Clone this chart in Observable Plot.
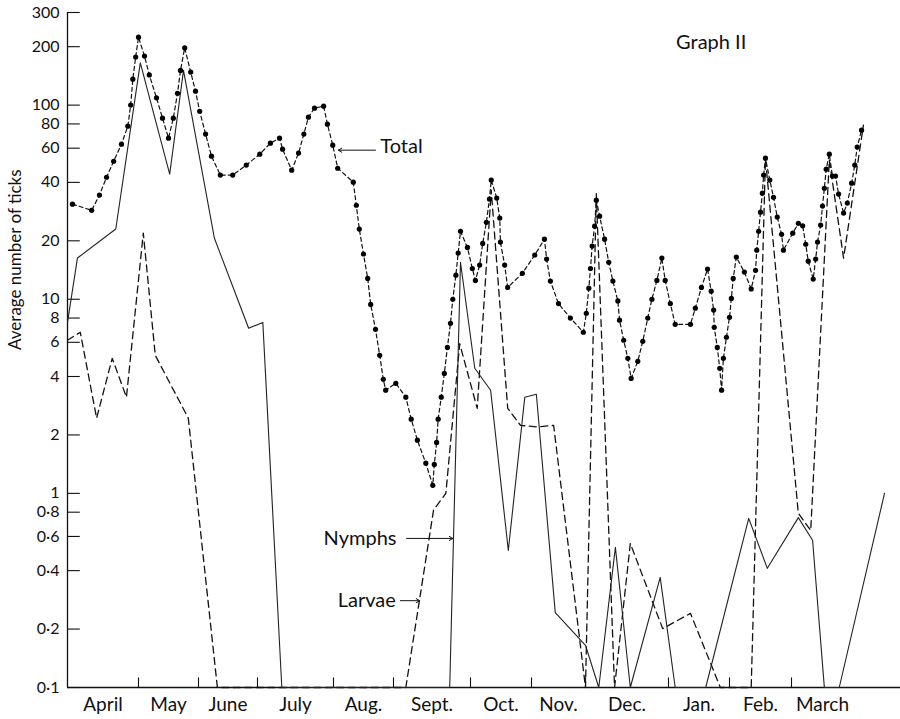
<!DOCTYPE html>
<html>
<head>
<meta charset="utf-8">
<script src="https://cdn.jsdelivr.net/npm/d3@7"></script>
<script src="https://cdn.jsdelivr.net/npm/@observablehq/plot@0.6"></script>
<style>
  html, body { margin: 0; padding: 0; background: #fff; }
  #chart svg { display: block; }
</style>
</head>
<body>
<div id="chart"></div>
<script>
// Months on the x axis (x unit = month, 0 = start of April)
const monthNames = ["April","May","June","July","Aug.","Sept.","Oct.","Nov.","Dec.","Jan.","Feb.","March"];
const monthTicks = [1,2,3,4,5,6,7,8,9,10,11];
const yTicks = [300,200,100,80,60,40,20,10,8,6,4,2,1,0.8,0.6,0.4,0.2,0.1];

// Total (dotted series)
const totalMonth = [0.07,0.34,0.45,0.55,0.65,0.76,0.85,0.89,0.92,0.96,1.00,1.10,1.18,1.30,1.40,1.50,1.58,1.65,1.70,1.77,1.87,1.95,2.02,2.12,2.22,2.37,2.58,2.81,3.03,3.17,3.29,3.33,3.45,3.54,3.61,3.67,3.75,3.87,3.92,3.99,4.07,4.33,4.38,4.43,4.50,4.57,4.62,4.70,4.77,4.83,4.87,5.03,5.16,5.23,5.31,5.42,5.51,5.53,5.56,5.58,5.62,5.66,5.70,5.74,5.77,5.81,5.84,5.87,5.96,6.03,6.08,6.15,6.20,6.26,6.31,6.34,6.43,6.48,6.49,6.56,6.61,6.85,7.06,7.24,7.28,7.35,7.50,7.72,7.96,8.01,8.04,8.06,8.08,8.11,8.13,8.17,8.23,8.28,8.33,8.39,8.41,8.46,8.51,8.55,8.63,8.69,8.75,8.80,8.86,8.92,8.96,9.03,9.11,9.36,9.44,9.54,9.64,9.70,9.74,9.75,9.80,9.84,9.87,9.90,9.95,10.00,10.03,10.06,10.11,10.24,10.35,10.42,10.44,10.47,10.50,10.53,10.55,10.58,10.65,10.71,10.77,10.84,10.87,11.02,11.11,11.18,11.23,11.27,11.35,11.39,11.42,11.47,11.50,11.53,11.56,11.61,11.66,11.71,11.76,11.84,11.90,11.97,12.02,12.06,12.13];
const totalValue = [30.9,28.7,34.4,42.5,51.4,62.9,77.9,100,136,177,224,179,143,109,85.7,67.6,85.7,115,151,197,148,118,93,70.9,54.6,43.6,43.6,49.1,55.9,63.7,67.6,59.3,46.2,56.6,70.9,86.7,96.5,98.8,79.8,62.2,47.3,40.1,30.5,23.0,17.1,12.8,9.4,7.0,5.14,3.87,3.40,3.69,3.13,2.41,1.88,1.43,1.10,1.41,1.83,2.41,3.13,4.15,5.65,7.52,10,13.3,17.3,22.4,18.5,14.4,12.5,15.0,19.4,24.9,32.8,41.1,33.2,26.2,19.7,15.0,11.5,13.6,16.9,20.4,16.1,12.4,9.5,8.0,6.76,8.47,11.4,14.4,18.8,23.8,32.4,26.8,20.4,15.5,12.4,9.8,7.8,6.15,4.96,3.91,4.79,6.07,8.0,10,12.5,16.3,12.5,9.5,7.43,7.43,9.0,11.5,14.3,11.0,8.8,7.17,5.65,4.41,3.40,4.96,6.37,8.07,10.1,12.8,16.5,13.8,11.3,14.1,17.9,22.4,28.1,35.2,43.6,53.3,41.1,33.5,26.5,21.6,17.9,21.9,24.6,23.9,19.2,15.7,12.7,16.1,19.7,24.1,30.2,37.3,46.8,55.9,43.1,43.1,34.8,27.8,31.3,39.6,49.1,60.8,74.3];

// Nymphs (solid line); 0.1 = none found
const nymphMonth = [0.00,0.14,0.68,1.03,1.52,1.75,2.27,2.85,3.07,3.32,5.73,5.87,6.07,6.33,6.62,6.89,7.09,7.44,8.00,8.16,8.36,8.54,8.90,9.11,9.61,10.31,10.61,11.11,11.34,11.53,11.77,12.50];
const nymphValue = [7.6,16.3,23.0,165,44.1,151,20.6,7.09,7.6,0.1,0.1,15.5,4.41,3.40,0.508,3.13,3.24,0.243,0.165,0.1,0.527,0.1,0.369,0.1,0.1,0.743,0.411,0.75,0.573,0.1,0.1,1.0];

// Larvae (dashed line); 0.1 = none found
const larvaMonth = [0.00,0.18,0.41,0.63,0.83,1.08,1.28,1.83,2.32,5.16,5.52,5.68,5.86,6.11,6.34,6.61,6.82,7.11,7.41,8.00,8.13,8.35,8.54,8.93,9.36,9.85,10.35,10.58,11.11,11.31,11.61,11.84,12.16];
const larvaValue = [6.15,6.76,2.44,4.96,3.13,21.9,5.14,2.44,0.1,0.1,0.82,1.0,5.9,2.74,36.5,2.74,2.24,2.2,2.24,0.1,35,0.1,0.552,0.201,0.241,0.1,0.1,53,0.79,0.644,52,16.3,78.9];

const total = totalMonth.map((m, i) => ({m, v: totalValue[i]}));
const nymphs = nymphMonth.map((m, i) => ({m, v: nymphValue[i]}));
const larvae = larvaMonth.map((m, i) => ({m, v: larvaValue[i]}));
const monthLabels = monthNames.map((name, i) => ({m: i + 0.5, name}));
const fmt = d => String(d).replace(".", "\u00B7");

const font = "Lato, 'Open Sans', sans-serif";

const chart = Plot.plot({
  width: 900,
  height: 719,
  marginLeft: 67,
  marginRight: 0,
  marginTop: 12,
  marginBottom: 32,
  style: {fontFamily: font, background: "#fff", color: "#111"},
  x: {type: "linear", domain: [0,1,2,3,4,5,6,7,8,9,10,11,12,12.758],
      range: [67,138,198,257,333,393,470,531,585,668,729,791,853,900], axis: null},
  y: {type: "log", domain: [0.1, 300], axis: null},
  marks: [
    // axes
    Plot.ruleX([0], {y1: 0.1, y2: 300, stroke: "#111", strokeWidth: 1.3}),
    Plot.ruleY([0.1], {x1: 0, x2: 12.758, stroke: "#111", strokeWidth: 1.3}),
    Plot.ruleY(yTicks, {x1: 0, x2: 0.18, stroke: "#111", strokeWidth: 1.1}),
    Plot.ruleX(monthTicks, {y1: 0.1, y2: 0.112, stroke: "#111", strokeWidth: 1.1}),
    Plot.text(yTicks, {x: 0, y: d => d, text: fmt, textAnchor: "end", dx: -8, fontSize: 16, fill: "#111"}),
    Plot.text(monthLabels, {x: "m", y: () => 0.1, text: "name", dy: 17, fontSize: 19, fill: "#111"}),
    Plot.text(["Average number of ticks"], {frameAnchor: "left", dx: -52, rotate: -90, fontSize: 17, fill: "#111"}),
    // series
    Plot.line(larvae, {x: "m", y: "v", stroke: "#111", strokeWidth: 1.3, strokeDasharray: "7,4.5"}),
    Plot.line(nymphs, {x: "m", y: "v", stroke: "#222", strokeWidth: 1.1}),
    Plot.line(total, {x: "m", y: "v", stroke: "#111", strokeWidth: 1.2, strokeDasharray: "4,3"}),
    Plot.dot(total, {x: "m", y: "v", r: 2.6, fill: "#000", stroke: "none"}),
    // annotations
    Plot.text(["Graph II"], {x: 9.70, y: 209, fontSize: 20, fill: "#111"}),
    Plot.text(["Total"], {x: 4.78, y: 61.5, textAnchor: "start", fontSize: 20, fill: "#111"}),
    Plot.arrow([0], {x1: 4.70, y1: 58.6, x2: 4.08, y2: 58.6, stroke: "#111", strokeWidth: 1, headLength: 6}),
    Plot.text(["Nymphs"], {x: 3.87, y: 0.586, textAnchor: "start", fontSize: 20, fill: "#111"}),
    Plot.arrow([0], {x1: 5.17, y1: 0.586, x2: 5.77, y2: 0.586, stroke: "#111", strokeWidth: 1, headLength: 6}),
    Plot.text(["Larvae"], {x: 4.07, y: 0.281, textAnchor: "start", fontSize: 20, fill: "#111"}),
    Plot.arrow([0], {x1: 5.09, y1: 0.28, x2: 5.34, y2: 0.28, stroke: "#111", strokeWidth: 1, headLength: 6})
  ]
});
document.getElementById("chart").appendChild(chart);
</script>
</body>
</html>
